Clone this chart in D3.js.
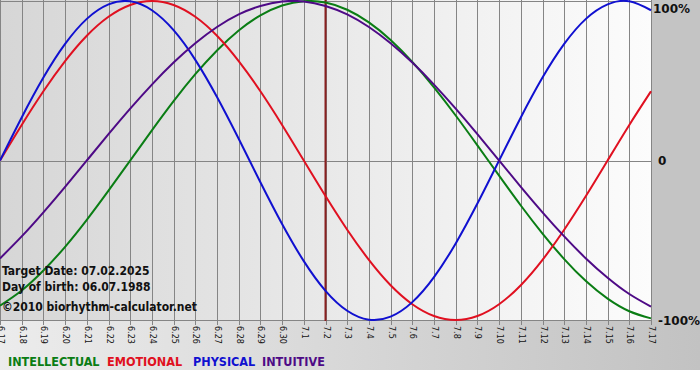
<!DOCTYPE html>
<html><head><meta charset="utf-8">
<script src="https://cdn.jsdelivr.net/npm/d3@7"></script>
<style>html,body{margin:0;padding:0;background:#fff;}svg{display:block;}</style>
</head><body>
<script>
const dates = ["6.17","6.18","6.19","6.20","6.21","6.22","6.23","6.24","6.25","6.26","6.27","6.28","6.29","6.30","7.1","7.2","7.3","7.4","7.5","7.6","7.7","7.8","7.9","7.10","7.11","7.12","7.13","7.14","7.15","7.16","7.17"];
const physical = [0,0.270,0.520,0.731,0.888,0.979,0.998,0.942,0.817,0.631,0.398,0.136,-0.136,-0.398,-0.631,-0.817,-0.942,-0.998,-0.979,-0.888,-0.731,-0.520,-0.270,0,0.270,0.520,0.731,0.888,0.979,0.998,0.942];
const emotional = [0,0.223,0.434,0.623,0.782,0.901,0.975,1,0.975,0.901,0.782,0.623,0.434,0.223,0,-0.223,-0.434,-0.623,-0.782,-0.901,-0.975,-1,-0.975,-0.901,-0.782,-0.623,-0.434,-0.223,0,0.223,0.434];
const intellectual = [-0.910,-0.815,-0.690,-0.541,-0.372,-0.189,0,0.189,0.372,0.541,0.690,0.815,0.910,0.972,0.999,0.990,0.945,0.866,0.756,0.618,0.458,0.282,0.095,-0.095,-0.282,-0.458,-0.618,-0.756,-0.866,-0.945,-0.990];
const intuitive = [-0.614,-0.476,-0.325,-0.165,0,0.165,0.325,0.476,0.614,0.735,0.837,0.916,0.969,0.997,0.997,0.969,0.916,0.837,0.735,0.614,0.476,0.325,0.165,0,-0.165,-0.325,-0.476,-0.614,-0.735,-0.837,-0.916];
const yTicks = [1, 0, -1];
const yTickLabels = ["100%", "0", "-100%"];
const targetDate = "7.2";
const infoLines = ["Target Date: 07.02.2025", "Day of birth: 06.07.1988", "©2010 biorhythm-calculator.net"];
const legendNames = ["INTELLECTUAL", "EMOTIONAL", "PHYSICAL", "INTUITIVE"];

const W = 700, H = 380;
const plotL = 0, plotR = 651, plotT = 0, plotB = 321;
const svg = d3.select("body").append("svg").attr("width", W).attr("height", H);
const defs = svg.append("defs");
const g1 = defs.append("linearGradient").attr("id","plotbg").attr("x1","0").attr("x2","1").attr("y1","0").attr("y2","0");
g1.append("stop").attr("offset","0").attr("stop-color","#d6d6d6");
g1.append("stop").attr("offset","1").attr("stop-color","#fcfcfc");
const g2 = defs.append("linearGradient").attr("id","botbg").attr("x1","0").attr("x2","1").attr("y1","0").attr("y2","0");
g2.append("stop").attr("offset","0").attr("stop-color","#ececec");
g2.append("stop").attr("offset","1").attr("stop-color","#c2c2c2");

// backgrounds
svg.append("rect").attr("x",0).attr("y",0).attr("width",W).attr("height",370).attr("fill","#c4c4c4");
svg.append("rect").attr("x",0).attr("y",plotB).attr("width",W).attr("height",370-plotB).attr("fill","url(#botbg)");
svg.append("rect").attr("x",plotL).attr("y",plotT).attr("width",plotR-plotL).attr("height",plotB-plotT).attr("fill","url(#plotbg)");

const x = d3.scalePoint().domain(dates).range([plotL, plotR]);
const y = d3.scaleLinear().domain([-1, 1]).range([plotB - 1, plotT + 1]);

// vertical grid lines + ticks
svg.append("g").selectAll("line").data(dates).join("line")
  .attr("x1", d => Math.round(x(d)) + 0.5).attr("x2", d => Math.round(x(d)) + 0.5)
  .attr("y1", plotT).attr("y2", plotB + 4)
  .attr("stroke", "#858585").attr("stroke-width", 1);
// horizontal grid
svg.append("g").selectAll("line").data(yTicks).join("line")
  .attr("x1", plotL).attr("x2", plotR + 1)
  .attr("y1", d => Math.round(y(d)) + 0.5).attr("y2", d => Math.round(y(d)) + 0.5)
  .attr("stroke", "#858585").attr("stroke-width", 1);

// x labels
svg.append("g").selectAll("text").data(dates).join("text")
  .attr("transform", d => `translate(${Math.round(x(d)) + 0.5},${plotB + 5}) rotate(90)`)
  .attr("dy", "0.35em")
  .attr("font-family", "'DejaVu Sans', sans-serif").attr("font-size", "8px")
  .attr("fill", "#111").text(d => d);

// y labels
svg.append("g").selectAll("text").data(yTicks).join("text")
  .attr("x", (d,i) => [653, 658, 658][i])
  .attr("y", (d,i) => Math.max(y(d), 8)).attr("dy", "0.38em")
  .attr("font-family", "'DejaVu Sans', sans-serif").attr("font-weight", "bold").attr("font-size", "12px")
  .attr("fill", "#111").text((d,i) => yTickLabels[i]);

// target marker
svg.append("line").attr("x1", x(targetDate)).attr("x2", x(targetDate))
  .attr("y1", plotT).attr("y2", plotB)
  .attr("stroke", "#8a2020").attr("stroke-width", 2);

const series = [
  {vals: intellectual, color: "#0a7d14"},
  {vals: emotional, color: "#e01020"},
  {vals: physical, color: "#1010d0"},
  {vals: intuitive, color: "#4e0a86"}
];
const line = d3.line().x((v,i) => x(dates[i])).y(v => y(v)).curve(d3.curveNatural);
svg.append("g").selectAll("path").data(series).join("path")
  .attr("d", s => line(s.vals)).attr("fill", "none")
  .attr("stroke", s => s.color).attr("stroke-width", 2);

// info text
svg.append("g").selectAll("text").data(infoLines).join("text")
  .attr("x", 2).attr("y", (d,i) => [275, 291, 311][i])
  .attr("font-family", "'DejaVu Sans Condensed', 'DejaVu Sans', sans-serif").attr("font-weight", "bold").attr("font-size", "12px")
  .attr("fill", "#111").text(d => d);

// legend
const legendColors = ["#0a7d14", "#e01020", "#1010d0", "#4e0a86"];
const legendX = [8, 107, 193, 262];
svg.append("g").selectAll("text").data(legendNames).join("text")
  .attr("x", (d,i) => legendX[i]).attr("y", 366)
  .attr("font-family", "'DejaVu Sans Condensed', 'DejaVu Sans', sans-serif").attr("font-weight", "bold").attr("font-size", "12.5px")
  .attr("fill", (d,i) => legendColors[i]).text(d => d);
</script>
</body></html>
